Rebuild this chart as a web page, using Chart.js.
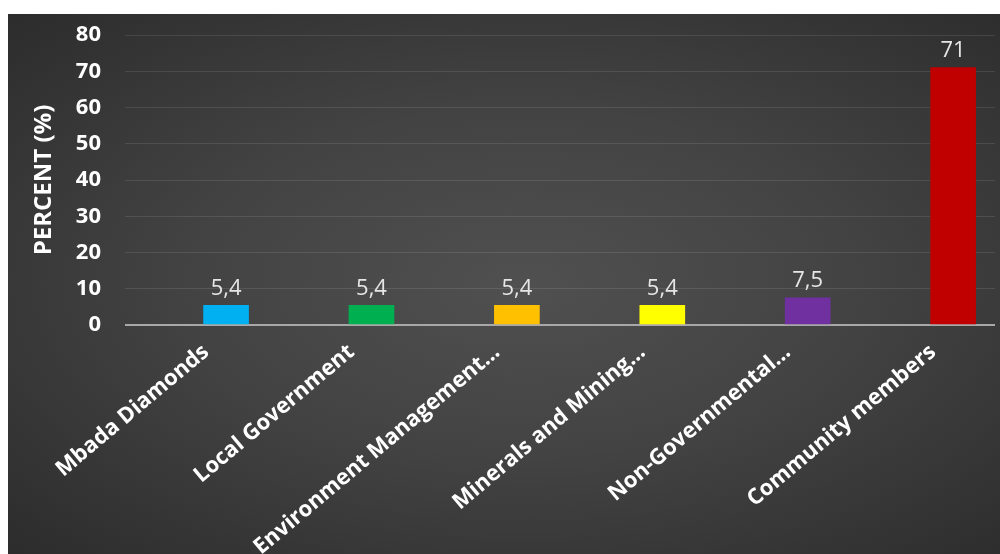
<!DOCTYPE html>
<html>
<head>
<meta charset="utf-8">
<script src="https://cdn.jsdelivr.net/npm/chart.js@4.4.1/dist/chart.umd.min.js"></script>
<style>
  html, body { margin: 0; padding: 0; background: #fff; overflow: hidden; }
  #wrap {
    position: absolute; left: 8px; top: 14px; width: 992px; height: 540px;
    background: radial-gradient(ellipse at 52% 50%, #505050 0%, #434343 45%, #2c2c2c 100%);
  }
</style>
</head>
<body>
<div id="wrap"><canvas id="chart"></canvas></div>
<script>
const categories = [
  'Mbada Diamonds',
  'Local Government',
  'Environment Management…',
  'Minerals and Mining…',
  'Non-Governmental…',
  'Community members'
];
const percents = [5.4, 5.4, 5.4, 5.4, 7.5, 71];
const barColors = ['#00B0F0', '#00B050', '#FFC000', '#FFFF00', '#7030A0', '#C00000'];
const yTicks = [0, 10, 20, 30, 40, 50, 60, 70, 80];

const FONT = "'Open Sans', 'DejaVu Sans', sans-serif";

// values over the bars, decimal comma like the original
const barValues = {
  id: 'barValues',
  afterDatasetsDraw(chart) {
    const ctx = chart.ctx;
    const meta = chart.getDatasetMeta(0);
    ctx.save();
    ctx.font = `22px ${FONT}`;
    ctx.fillStyle = '#e6e6e6';
    ctx.textAlign = 'center';
    ctx.textBaseline = 'bottom';
    meta.data.forEach((bar, i) => {
      ctx.fillText(String(percents[i]).replace('.', ','), bar.x, bar.y - 6);
    });
    ctx.restore();
  }
};

const canvas = document.getElementById('chart');
canvas.width = 992;
canvas.height = 540;

new Chart(canvas.getContext('2d'), {
  type: 'bar',
  data: {
    datasets: [{
      data: categories.map((c, i) => ({ x: i, y: percents[i] })),
      backgroundColor: barColors,
      barThickness: 45
    }]
  },
  options: {
    responsive: false,
    animation: false,
    layout: { padding: { top: 21, right: 5, left: 0, bottom: 0 } },
    plugins: { legend: { display: false }, tooltip: { enabled: false } },
    scales: {
      x: {
        type: 'linear',
        offset: false,
        min: -0.695,
        max: 5.288,
        afterBuildTicks: s => { s.ticks = categories.map((c, i) => ({ value: i })); },
        afterFit: s => { s.height = 229; },
        grid: { display: false },
        border: { display: false },
        ticks: {
          autoSkip: false,
          minRotation: 40,
          maxRotation: 40,
          padding: 6,
          labelOffset: -20,
          color: '#ffffff',
          font: { family: FONT, size: 22, weight: 'bold' },
          callback: v => categories[v]
        }
      },
      y: {
        min: 0,
        max: 80,
        afterBuildTicks: s => { s.ticks = yTicks.map(v => ({ value: v })); },
        afterFit: s => { s.width = 117; },
        border: { display: false },
        grid: {
          tickLength: 21,
          tickColor: 'rgba(0,0,0,0)',
          color: c => c.tick.value === 0 ? '#a8a8a8' : 'rgba(255,255,255,0.10)',
          lineWidth: c => c.tick.value === 0 ? 2 : 1
        },
        ticks: {
          padding: 3,
          color: '#ffffff',
          font: { family: FONT, size: 22, weight: 'bold' }
        },
        title: {
          display: true,
          text: 'PERCENT (%)',
          color: '#ffffff',
          padding: { top: 22, bottom: 0 },
          font: { family: FONT, size: 24, weight: 'bold' }
        }
      }
    }
  },
  plugins: [barValues]
});
</script>
</body>
</html>
